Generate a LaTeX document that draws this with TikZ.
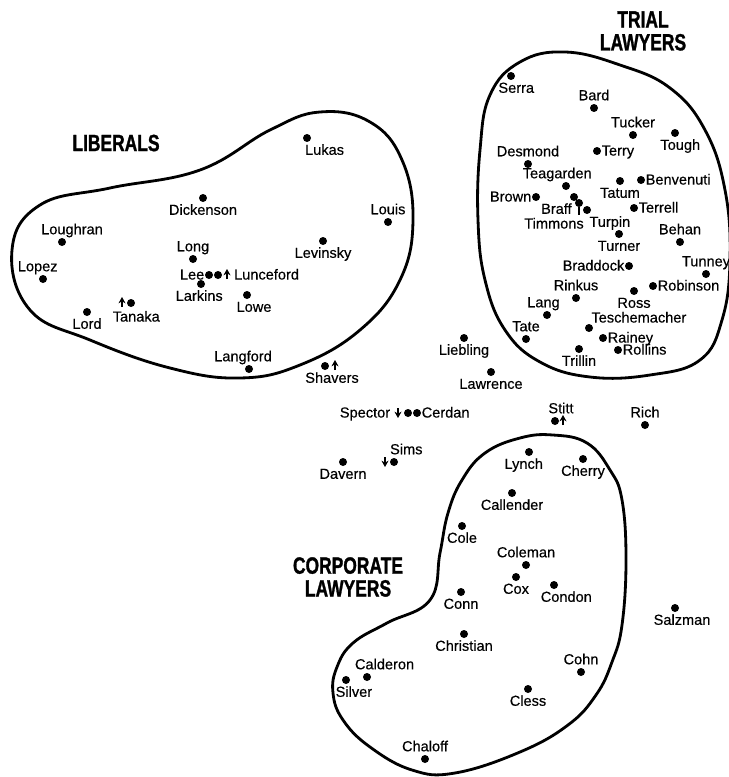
\documentclass[tikz,border=0pt]{standalone}
\usepackage{fontspec}
\setsansfont[FakeBold=0.35]{Liberation Sans}
\newfontfamily\grouptitle[FakeStretch=0.74, FakeBold=1.2]{Liberation Sans Bold}
\usetikzlibrary{arrows.meta}

\begin{document}
\begin{tikzpicture}[
            x=0.02cm, y=-0.02cm,
            font=\fontsize{8.3}{10}\sffamily,
            juror/.style={circle, fill, inner sep=0pt, minimum size=0.16cm},
            every label/.style={inner sep=0.5pt, text height=1.6ex, text depth=0.4ex},
            label distance=-0.5pt,
            namelbl/.style={inner sep=0.5pt, text height=1.6ex, text depth=0.4ex},
            cluster/.style={line width=1.6pt},
            grouplbl/.style={font=\fontsize{13.4}{13}\grouptitle, align=center},
            drift/.style={-{Stealth[length=3.6pt,width=4pt]}, line width=1pt}
        ]
            \useasboundingbox (0,0) rectangle (729,777);

% Group outlines
            \draw[cluster] plot[smooth cycle, tension=0.7] coordinates {
                (12,250) (40,205) (110,188) (200,170) (270,130) (320,112) (370,122)
                (402,160) (413,220) (400,280) (360,330) (300,365) (240,378) (170,368)
                (90,340) (30,310)};
            \draw[cluster] plot[smooth cycle, tension=0.7] coordinates {
                (490,95) (520,62) (565,52) (620,65) (670,88) (705,130) (725,190)
                (730,260) (722,320) (700,360) (650,375) (590,377) (540,362) (505,330)
                (485,280) (478,220) (480,150)};
            \draw[cluster] plot[smooth cycle, tension=0.7] coordinates {
                (430,600) (440,553) (448,513) (462,480) (485,453) (520,438) (553,435)
                (587,443) (610,470) (622,500) (626,560) (622,625) (612,662) (596,695)
                (568,725) (520,752) (455,773) (412,770) (370,747) (343,720) (333,693)
                (337,667) (353,643) (387,623)};

% Group titles
            \node[grouplbl] (trialttl) at (643,31)  {TRIAL\\LAWYERS};
            \node[grouplbl] (libttl)   at (116,143) {LIBERALS};
            \node[grouplbl] (corpttl)  at (348,577) {CORPORATE\\LAWYERS};

% Liberals
            \node[juror, label={[xshift=10pt]below:Lukas}]       (lukas)     at (307,138) {};
            \node[juror, label={below:Dickenson}]                (dickenson) at (203,198) {};
            \node[juror, label={above:Louis}]                    (louis)     at (388,222) {};
            \node[juror, label={[xshift=5.7pt]above:Loughran}]   (loughran)  at (62,242)  {};
            \node[juror, label={below:Levinsky}]                 (levinsky)  at (323,241) {};
            \node[juror, label={above:Long}]                     (long)      at (193,259) {};
            \node[juror, label={[xshift=-3pt]above:Lopez}]       (lopez)     at (43,279)  {};
            \node[juror, label={left:Lee}]                       (lee)       at (209,275) {};
            \node[juror, label={[label distance=6pt]right:Lunceford}] (lunceford) at (218,275) {};
            \node[juror, label={[xshift=-1pt]below:Larkins}]     (larkins)   at (201,284) {};
            \node[juror, label={[xshift=4pt]below:Lowe}]         (lowe)      at (247,295) {};
            \node[juror, label={[xshift=3pt,yshift=-1pt]below:Tanaka}] (tanaka) at (131,303) {};
            \node[juror, label={below:Lord}]                     (lord)      at (87,312)  {};
            \node[juror, label={[xshift=-3.4pt]above:Langford}]  (langford)  at (249,369) {};

% Trial lawyers
            \node[juror, label={[xshift=3pt]below:Serra}]        (serra)     at (511,76)  {};
            \node[juror, label={above:Bard}]                     (bard)      at (594,108) {};
            \node[juror, label={above:Tucker}]                   (tucker)    at (633,135) {};
            \node[juror, label={[xshift=3pt]below:Tough}]        (tough)     at (675,133) {};
            \node[juror, label={right:Terry}]                    (terry)     at (597,151) {};
            \node[juror, label={above:Desmond}]                  (desmond)   at (528,164) {};
            \node[juror, label={[xshift=-5pt]above:Teagarden}]   (teagarden) at (566,186) {};
            \node[juror, label={left:Brown}]                     (brown)     at (536,197) {};
            \node[juror, label={[xshift=-10pt]below:Braff}]      (braff)     at (574,197) {};
            \node[juror]                                         (timmons)   at (579,203) {};
            \node[namelbl]                                       (timmonslbl) at (554,224) {Timmons};
            \node[juror, label={[xshift=13pt]below:Turpin}]      (turpin)    at (587,210) {};
            \node[juror, label={below:Tatum}]                    (tatum)     at (620,181) {};
            \node[juror, label={right:Benvenuti}]                (benvenuti) at (641,180) {};
            \node[juror, label={right:Terrell}]                  (terrell)   at (634,208) {};
            \node[juror, label={above:Behan}]                    (behan)     at (680,242) {};
            \node[juror, label={below:Turner}]                   (turner)    at (619,234) {};
            \node[juror, label={left:Braddock}]                  (braddock)  at (629,266) {};
            \node[juror, label={above:Tunney}]                   (tunney)    at (706,274) {};
            \node[juror, label={above:Rinkus}]                   (rinkus)    at (576,298) {};
            \node[juror, label={below:Ross}]                     (ross)      at (634,291) {};
            \node[juror, label={right:Robinson}]                 (robinson)  at (653,286) {};
            \node[juror, label={[xshift=-2pt]above:Lang}]        (lang)      at (547,315) {};
            \node[juror, label={above:Tate}]                     (tate)      at (526,339) {};
            \node[juror, label={[label distance=-1.5pt]above right:Teschemacher}] (tesch) at (589,328) {};
            \node[juror, label={right:Rainey}]                   (rainey)    at (603,338) {};
            \node[juror, label={right:Rollins}]                  (rollins)   at (618,350) {};
            \node[juror, label={below:Trillin}]                  (trillin)   at (579,349) {};
            \draw[line width=0.7pt] (timmons) -- (timmons |- timmonslbl.north);

% Unattached
            \node[juror, label={below:Liebling}]                 (liebling)  at (464,338) {};
            \node[juror, label={below:Lawrence}]                 (lawrence)  at (491,372) {};
            \node[juror, label={[xshift=4pt]below:Shavers}]      (shavers)   at (325,366) {};
            \node[juror, label={[label distance=7pt]left:Spector}] (spector) at (408,413) {};
            \node[juror, label={right:Cerdan}]                   (cerdan)    at (417,413) {};
            \node[juror, label={[xshift=7pt]above:Sims}]         (sims)      at (394,462) {};
            \node[juror, label={below:Davern}]                   (davern)    at (343,462) {};
            \node[juror, label={[xshift=3.4pt]above:Stitt}]      (stitt)     at (555,421) {};
            \node[juror, label={above:Rich}]                     (rich)      at (645,425) {};
            \node[juror, label={[xshift=4pt]below:Salzman}]      (salzman)   at (675,608) {};

% Corporate lawyers
            \node[juror, label={[xshift=-3pt]below:Lynch}]       (lynch)     at (529,452) {};
            \node[juror, label={below:Cherry}]                   (cherry)    at (583,459) {};
            \node[juror, label={below:Callender}]                (callender) at (512,493) {};
            \node[juror, label={below:Cole}]                     (cole)      at (462,526) {};
            \node[juror, label={above:Coleman}]                  (coleman)   at (526,565) {};
            \node[juror, label={below:Cox}]                      (cox)       at (516,577) {};
            \node[juror, label={[xshift=7pt]below:Condon}]       (condon)    at (554,585) {};
            \node[juror, label={below:Conn}]                     (conn)      at (461,592) {};
            \node[juror, label={below:Christian}]                (christian) at (464,634) {};
            \node[juror, label={[xshift=10pt]above:Calderon}]    (calderon)  at (367,677) {};
            \node[juror, label={[xshift=4.5pt]below:Silver}]     (silver)    at (346,680) {};
            \node[juror, label={above:Cohn}]                     (cohn)      at (581,672) {};
            \node[juror, label={below:Cless}]                    (cless)     at (528,689) {};
            \node[juror, label={above:Chaloff}]                  (chaloff)   at (425,759) {};

% Drift markers
            \draw[drift] ([shift={(-9,4)}]tanaka.center)    -- ++(0,-10);
            \draw[drift] ([shift={(9,4)}]lunceford.center)  -- ++(0,-10);
            \draw[drift] ([shift={(10,4)}]shavers.center)   -- ++(0,-10);
            \draw[drift] ([shift={(8,4)}]stitt.center)      -- ++(0,-10);
            \draw[drift] ([shift={(-10,-5)}]spector.center) -- ++(0,10);
            \draw[drift] ([shift={(-9,-5)}]sims.center)     -- ++(0,10);
        \end{tikzpicture}
\end{document}
